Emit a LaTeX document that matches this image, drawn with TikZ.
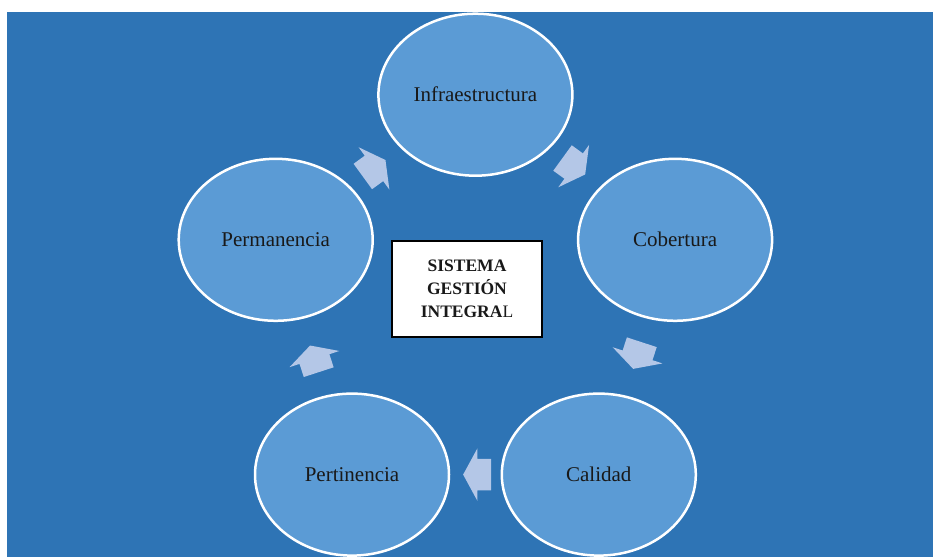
\documentclass[tikz,border=0pt]{standalone}
\usepackage{fontspec}
\setmainfont{Liberation Serif}
\usepackage{tikz}
\usetikzlibrary{shapes.geometric,shapes.arrows,calc}

\definecolor{fondo}{HTML}{2E74B5}
\definecolor{circulo}{HTML}{5B9BD5}
\definecolor{flecha}{HTML}{B4C7E7}

\begin{document}
\begin{tikzpicture}[x=1pt,y=1pt]
		\tikzstyle{every node}=[font=\fontsize{21}{25}\selectfont, text=black!90]
		\tikzstyle{etapa}=[ellipse, draw=white, line width=2.5pt, fill=circulo, minimum width=194pt, minimum height=162pt, inner sep=0pt]
		\tikzset{giro/.style={single arrow, fill=flecha, draw=none, inner xsep=0pt, inner ysep=15.5pt, minimum height=28pt, single arrow head extend=10.5pt, single arrow tip angle=123, rotate=#1, xshift=-6pt}}

		\useasboundingbox (0,0) rectangle (933,557);
		\fill [fondo] (7,0) rectangle (933,545);

		\node [etapa] (infra) at (475.4,462.3) {Infraestructura};
		\node [etapa] (cob) at (675.1,317.2) {Cobertura};
		\node [etapa] (cal) at (598.8,82.4) {Calidad};
		\node [etapa] (pert) at (352,82.4) {Pertinencia};
		\node [etapa] (perm) at (275.7,317.2) {Permanencia};

		\node [draw=black, line width=1.2pt, fill=white, minimum width=150pt, minimum height=96pt, align=center,
			font=\fontsize{17.5}{23}\selectfont\bfseries] (sistema) at (467,268) {SISTEMA\\GESTIÓN\\INTEGRA{\mdseries L}};

		\node [giro=36] (f1) at ($(perm)!0.5!(infra)$) {};
		\node [giro=-36] (f2) at ($(infra)!0.5!(cob)$) {};
		\node [giro=-108] (f3) at ($(cob)!0.5!(cal)$) {};
		\node [giro=180] (f4) at ($(cal)!0.5!(pert)$) {};
		\node [giro=108] (f5) at ($(pert)!0.5!(perm)$) {};

	\end{tikzpicture}
\end{document}
